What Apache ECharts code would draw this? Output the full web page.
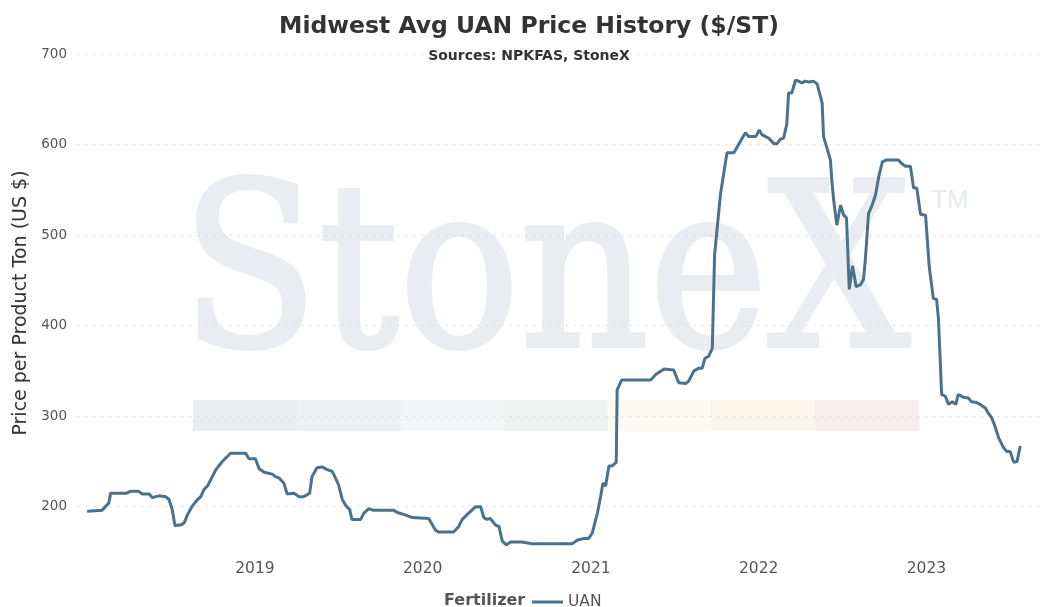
<!DOCTYPE html>
<html>
<head>
<meta charset="utf-8">
<script src="https://cdn.jsdelivr.net/npm/echarts@6/dist/echarts.min.js"></script>
<style>
  html, body { margin: 0; padding: 0; background: #fff; }
  #main { width: 1058px; height: 607px; }
</style>
</head>
<body>
<div id="main"></div>
<script>
// UAN price
const dates = [
  '2018-01-01', '2018-02-02', '2018-02-17', '2018-02-21', '2018-03-28', '2018-04-05', '2018-04-23',
  '2018-05-01', '2018-05-16', '2018-05-23', '2018-06-06', '2018-06-21', '2018-06-28', '2018-07-05',
  '2018-07-11', '2018-07-24', '2018-07-31', '2018-08-07', '2018-08-18', '2018-08-29', '2018-09-05',
  '2018-09-12', '2018-09-20', '2018-10-08', '2018-10-22', '2018-11-09', '2018-12-12', '2018-12-19',
  '2019-01-02', '2019-01-10', '2019-01-21', '2019-02-08', '2019-02-15', '2019-02-22', '2019-03-05',
  '2019-03-12', '2019-03-27', '2019-04-07', '2019-04-17', '2019-04-30', '2019-05-05', '2019-05-16',
  '2019-05-27', '2019-06-07', '2019-06-18', '2019-06-25', '2019-07-02', '2019-07-10', '2019-07-18',
  '2019-07-26', '2019-07-31', '2019-08-19', '2019-08-26', '2019-09-06', '2019-09-16', '2019-10-30',
  '2019-11-10', '2019-11-24', '2019-12-09',
  '2020-01-14', '2020-01-29', '2020-02-05', '2020-03-08', '2020-03-19', '2020-03-27', '2020-04-10',
  '2020-04-25', '2020-05-06', '2020-05-13', '2020-05-20', '2020-05-27', '2020-06-07', '2020-06-15',
  '2020-06-22', '2020-07-01', '2020-07-10', '2020-08-04', '2020-08-26', '2020-11-21', '2020-12-02',
  '2020-12-17', '2020-12-27',
  '2021-01-04', '2021-01-15', '2021-01-22', '2021-01-27', '2021-02-02', '2021-02-09', '2021-02-16',
  '2021-02-25', '2021-02-27', '2021-03-09', '2021-05-11', '2021-05-22', '2021-06-09', '2021-06-30',
  '2021-07-11', '2021-07-26', '2021-08-02', '2021-08-13', '2021-08-24', '2021-08-31', '2021-09-06',
  '2021-09-14', '2021-09-22', '2021-09-27', '2021-10-10', '2021-10-24', '2021-11-08', '2021-11-26',
  '2021-12-03', '2021-12-10', '2021-12-26',
  '2022-01-02', '2022-01-08', '2022-01-23', '2022-02-03', '2022-02-10', '2022-02-17', '2022-02-24',
  '2022-03-03', '2022-03-07', '2022-03-14', '2022-03-22', '2022-03-29', '2022-04-05', '2022-04-12',
  '2022-04-20', '2022-04-30', '2022-05-08', '2022-05-19', '2022-05-22', '2022-06-06', '2022-06-09',
  '2022-06-13', '2022-06-20', '2022-06-28', '2022-07-05', '2022-07-11', '2022-07-17', '2022-07-24',
  '2022-08-01', '2022-08-10', '2022-08-17', '2022-08-21', '2022-08-28', '2022-09-04', '2022-09-12',
  '2022-09-19', '2022-09-27', '2022-10-07', '2022-11-01', '2022-11-08', '2022-11-16', '2022-11-27',
  '2022-12-04', '2022-12-11', '2022-12-19', '2022-12-30',
  '2023-01-07', '2023-01-16', '2023-01-23', '2023-01-27', '2023-02-03', '2023-02-11', '2023-02-18',
  '2023-02-26', '2023-03-06', '2023-03-11', '2023-03-22', '2023-04-02', '2023-04-09', '2023-04-20',
  '2023-04-28', '2023-05-09', '2023-05-16', '2023-05-23', '2023-05-30', '2023-06-07', '2023-06-18',
  '2023-06-25', '2023-07-02', '2023-07-10', '2023-07-17', '2023-07-24'
];
const uan = [
  195, 196, 204, 215, 215, 217, 217,
  214, 214, 210, 212, 211, 208, 197,
  179, 180, 182, 191, 201, 208, 211,
  219, 223, 241, 250, 259, 259, 253,
  253, 242, 238, 236, 233, 232, 226,
  214, 215, 211, 211, 215, 233, 243,
  244, 241, 239, 232, 224, 208, 201,
  197, 186, 186, 193, 198, 196, 196,
  193, 191, 188,
  187, 174, 172, 172, 178, 186, 193,
  200, 200, 188, 186, 187, 180, 178,
  162, 158, 161, 161, 159, 159, 163,
  165, 165,
  171, 193, 211, 226, 223, 245, 245,
  249, 329, 340, 340, 346, 352, 351,
  337, 336, 339, 350, 353, 353, 364,
  366, 375, 478, 546, 591, 591, 607,
  613, 609, 609,
  616, 611, 607, 601, 601, 606, 607,
  622, 657, 657, 671, 670, 668, 670,
  669, 670, 667, 646, 609, 583, 561,
  539, 511, 533, 522, 519, 440, 466,
  443, 445, 451, 473, 524, 532, 544,
  564, 581, 583, 583, 579, 576, 576,
  552, 552, 523, 522,
  465, 430, 429, 408, 324, 322, 313,
  316, 313, 324, 321, 320, 316, 315,
  313, 309, 303, 298, 289, 276, 265,
  261, 261, 249, 250, 267
];
const yTicks = [200, 300, 400, 500, 600, 700];
const xYears = ['2019', '2020', '2021', '2022', '2023'];
const stripColors = ['#eaedf0', '#ecf0f3', '#f1f6f9', '#edf2f0', '#fbfbf2', '#faf6ea', '#f8ecee'];

const chart = echarts.init(document.getElementById('main'), null, { renderer: 'canvas' });

const lineColor = '#4b728b';
const fontFam = 'DejaVu Sans, Verdana, sans-serif';

// background strip of pale colour blocks
const strip = stripColors.map(function (c, i) {
  return {
    type: 'rect',
    z: -10,
    silent: true,
    shape: { x: 193 + i * 103.7, y: 400, width: 104.2, height: 31 },
    style: { fill: c }
  };
});

const option = {
  backgroundColor: '#fff',
  animation: false,
  title: [
    {
      text: 'Midwest Avg UAN Price History ($/ST)',
      left: 'center',
      top: 10,
      textStyle: { fontFamily: fontFam, fontSize: 23.5, fontWeight: 'bold', color: '#333' }
    },
    {
      text: 'Sources: NPKFAS, StoneX',
      left: 'center',
      top: 44,
      textStyle: { fontFamily: fontFam, fontSize: 14, fontWeight: 'bold', color: '#333' }
    },
    {
      text: 'Fertilizer',
      left: 439,
      top: 588,
      textStyle: { fontFamily: fontFam, fontSize: 16, fontWeight: 'bold', color: '#555' }
    }
  ],
  legend: {
    left: 527,
    top: 589,
    icon: 'rect',
    itemWidth: 31,
    itemHeight: 3,
    itemGap: 6,
    textStyle: { fontFamily: fontFam, fontSize: 15.5, color: '#555' },
    data: ['UAN']
  },
  graphic: [
    {
      type: 'text',
      z: -10,
      silent: true,
      x: 181,
      y: 173,
      scaleX: 0.88,
      style: {
        text: 'StoneX',
        fontFamily: 'DejaVu Serif, serif',
        fontSize: 228,
        stroke: '#e9edf1',
        lineWidth: 4,
        fill: '#e9edf1'
      }
    },
    {
      type: 'text',
      z: -10,
      silent: true,
      left: 931,
      top: 188,
      style: {
        text: 'TM',
        fontFamily: 'Liberation Sans, Arial, sans-serif',
        fontSize: 26,
        fill: '#e6eaee'
      }
    }
  ].concat(strip),
  grid: {
    left: 78,
    right: 18,
    top: 54,
    bottom: 55
  },
  xAxis: {
    type: 'time',
    min: '2017-12-12',
    max: '2023-09-05',
    minInterval: 365 * 24 * 3600 * 1000,
    axisLine: { show: false },
    axisTick: { show: false },
    splitLine: { show: false },
    axisLabel: {
      fontFamily: fontFam,
      fontSize: 15.5,
      color: '#555',
      margin: 9,
      formatter: function (v) {
        const y = String(new Date(v).getFullYear());
        return xYears.indexOf(y) >= 0 ? y : '';
      }
    }
  },
  yAxis: {
    type: 'value',
    name: 'Price per Product Ton (US $)',
    nameLocation: 'middle',
    nameGap: 47,
    nameTextStyle: { fontFamily: fontFam, fontSize: 19, color: '#333' },
    min: 150,
    max: 700,
    interval: 50,
    axisLine: { show: false },
    axisTick: { show: false },
    axisLabel: {
      fontFamily: fontFam,
      fontSize: 13.5,
      color: '#555',
      margin: 11,
      formatter: function (v) {
        return yTicks.indexOf(v) >= 0 ? String(v) : '';
      }
    },
    splitLine: {
      lineStyle: {
        color: ['rgba(0,0,0,0)', '#c4c4c4'],
        type: [1, 7],
        width: 1
      }
    }
  },
  series: [
    {
      name: 'UAN',
      type: 'line',
      symbol: 'none',
      z: 5,
      lineStyle: { color: lineColor, width: 3 },
      itemStyle: { color: lineColor },
      data: dates.map(function (d, i) { return [d, uan[i]]; })
    }
  ]
};

chart.setOption(option);
</script>
</body>
</html>
